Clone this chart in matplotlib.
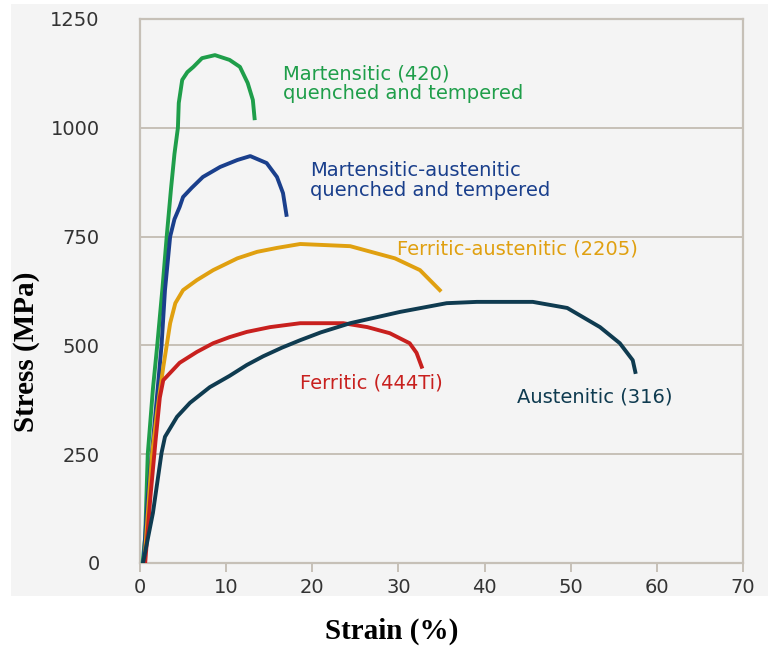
import matplotlib
matplotlib.use("Agg")
import matplotlib.pyplot as plt
from matplotlib.patches import Rectangle

# ---- data (strain %, stress MPa) ----
mart420_x = [0.3, 0.6, 0.9, 1.5, 2.0, 2.6, 3.1, 3.6, 4.0, 4.4, 4.5, 4.9, 5.5, 6.2, 7.2, 8.7, 10.4, 11.6, 12.5, 13.1, 13.3]
mart420_y = [0, 60, 250, 400, 500, 630, 750, 860, 940, 1000, 1057, 1110, 1128, 1140, 1160, 1167, 1156, 1140, 1103, 1064, 1022]

martaus_x = [0.4, 0.9, 1.6, 2.5, 2.9, 3.5, 4.0, 4.6, 5.0, 6.0, 7.3, 9.3, 11.3, 12.8, 14.7, 15.9, 16.6, 17.0]
martaus_y = [0, 150, 300, 500, 627, 750, 790, 818, 841, 862, 887, 910, 926, 935, 919, 887, 850, 800]

duplex_x = [0.5, 1.4, 2.0, 2.7, 3.1, 3.5, 4.1, 5.0, 6.6, 8.5, 11.3, 13.6, 15.9, 18.6, 24.4, 29.6, 32.5, 34.8]
duplex_y = [0, 250, 350, 450, 500, 551, 597, 627, 650, 673, 700, 715, 724, 733, 728, 700, 673, 627]

ferritic_x = [0.6, 1.2, 1.8, 2.3, 2.7, 4.6, 6.6, 8.5, 10.4, 12.4, 15.1, 18.6, 23.6, 26.4, 29.0, 31.3, 32.1, 32.7]
ferritic_y = [0, 150, 280, 380, 420, 460, 485, 505, 519, 531, 542, 551, 551, 542, 528, 505, 483, 451]

austen_x = [0.35, 1.5, 2.5, 2.9, 4.3, 5.8, 8.1, 10.4, 12.4, 14.3, 16.5, 18.6, 21.0, 24.4, 30.2, 35.6, 39.1, 45.6, 49.6, 53.4, 55.7, 57.2, 57.5]
austen_y = [0, 115, 253, 290, 336, 368, 404, 430, 455, 475, 495, 512, 530, 551, 577, 597, 600, 600, 586, 542, 505, 466, 439]

x_ticks = [0, 10, 20, 30, 40, 50, 60, 70]
y_ticks = [0, 250, 500, 750, 1000, 1250]

series = [
    (mart420_x, mart420_y, "#1f9e4a", ["Martensitic (420)", "quenched and tempered"], 16.6, [1124, 1078]),
    (martaus_x, martaus_y, "#1a3f8c", ["Martensitic-austenitic", "quenched and tempered"], 19.7, [903, 857]),
    (duplex_x, duplex_y, "#e0a010", ["Ferritic-austenitic (2205)"], 29.8, [721]),
    (ferritic_x, ferritic_y, "#c8201e", ["Ferritic (444Ti)"], 18.6, [414]),
    (austen_x, austen_y, "#0f3b50", ["Austenitic (316)"], 43.8, [381]),
]

W, H = 768, 651
fig = plt.figure(figsize=(W / 100, H / 100), dpi=100)
fig.patch.set_facecolor("white")
# gray panel behind the chart
panel = Rectangle((11 / W, 1 - 596 / H), (W - 11) / W, (596 - 4) / H,
                  transform=fig.transFigure, facecolor="#f4f4f4",
                  edgecolor="none", zorder=-10)
fig.add_artist(panel)

ax = fig.add_axes([140 / W, 1 - 563 / H, (743 - 140) / W, (563 - 19) / H])
ax.set_zorder(1)
ax.set_facecolor("#f4f4f4")
spine_c = "#c6c0b7"
for s in ax.spines.values():
    s.set_color(spine_c)
    s.set_linewidth(1.6)

ax.set_xlim(0, 70)
ax.set_ylim(0, 1250)
ax.set_xticks(x_ticks)
ax.set_yticks(y_ticks)
ax.yaxis.grid(True, color=spine_c, linewidth=1.4)
ax.set_axisbelow(True)
ax.tick_params(axis="x", direction="out", length=6.5, width=1.4, color=spine_c,
               labelsize=14, labelcolor="#333333", pad=4)
ax.tick_params(axis="y", length=0, labelsize=14, labelcolor="#333333", pad=29)

for xs, ys, c, lines, tx, tys in series:
    ax.plot(xs, ys, color=c, linewidth=2.8, solid_joinstyle="round", zorder=3)
    for line, ty in zip(lines, tys):
        ax.text(tx, ty, line, color=c, fontsize=14, ha="left", va="center",
                family="DejaVu Sans")

fig.text(392 / W, 1 - 631 / H, "Strain (%)", fontsize=21, fontweight="bold",
         family="Liberation Serif", ha="center", va="center")
fig.text(27 / W, 1 - 352 / H, "Stress (MPa)", fontsize=21, fontweight="bold",
         family="Liberation Serif", ha="center", va="center", rotation=90)

fig.savefig("out.png", dpi=100)
